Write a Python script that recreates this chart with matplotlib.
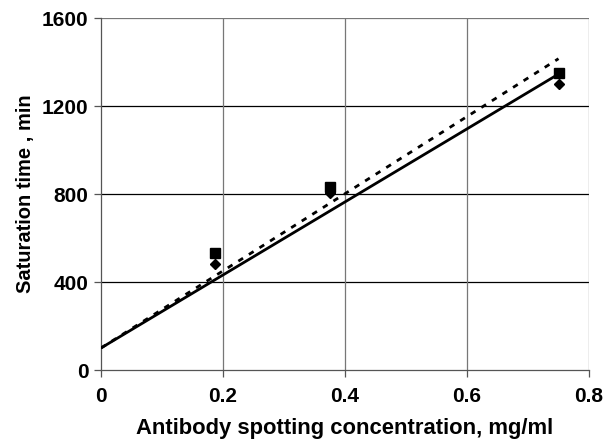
import matplotlib
matplotlib.use('Agg')
import matplotlib.pyplot as plt
import numpy as np

plt.rcParams['font.family'] = ['Liberation Sans', 'DejaVu Sans']

# data
conc = [0.1875, 0.375, 0.75]
time_sq = [530, 830, 1350]
time_dm = [480, 805, 1300]

# model lines (endpoints)
line_x = [0.0, 0.75]
solid_y = [100, 1345]
dashed_y = [100, 1415]

xticks = [0, 0.2, 0.4, 0.6, 0.8]
xlabels = ['0', '0.2', '0.4', '0.6', '0.8']
yticks = [0, 400, 800, 1200, 1600]

fig = plt.figure(figsize=(6.15, 4.4), dpi=100)
ax = fig.add_axes([101 / 615, 1 - 370 / 440, 488 / 615, 352 / 440])

ax.plot(line_x, solid_y, color='black', lw=2, solid_capstyle='butt', zorder=3)
ax.plot(line_x, dashed_y, color='black', lw=2, linestyle=(0, (2, 2.5)), zorder=3)
ax.plot(conc, time_sq, 's', color='black', ms=6.5, zorder=4)
ax.plot(conc, time_dm, 'D', color='black', ms=5.5, zorder=4)

ax.set_xlim(0, 0.8)
ax.set_ylim(0, 1600)
ax.set_xticks(xticks)
ax.set_xticklabels(xlabels)
ax.set_yticks(yticks)

for y in yticks[1:-1]:
    ax.axhline(y, color='black', lw=0.9, zorder=1)
ax.axhline(yticks[-1], color='#777777', lw=0.9, zorder=1)
for x in xticks[1:]:
    ax.axvline(x, color='#777777', lw=0.9, zorder=1)

for s in ['top', 'right']:
    ax.spines[s].set_visible(False)
for s in ['left', 'bottom']:
    ax.spines[s].set_color('#555555')
    ax.spines[s].set_linewidth(0.9)

ax.tick_params(direction='out', length=5, width=0.9, color='#555555',
               labelsize=15, pad=4)
for lab in ax.get_xticklabels() + ax.get_yticklabels():
    lab.set_fontweight('bold')
ax.tick_params(axis='x', pad=7)

ax.set_xlabel('Antibody spotting concentration, mg/ml', fontsize=15.8,
              fontweight='bold', labelpad=9)
ax.set_ylabel('Saturation time , min', fontsize=14.5, fontweight='bold', labelpad=5)

fig.savefig('out.png', dpi=100)
